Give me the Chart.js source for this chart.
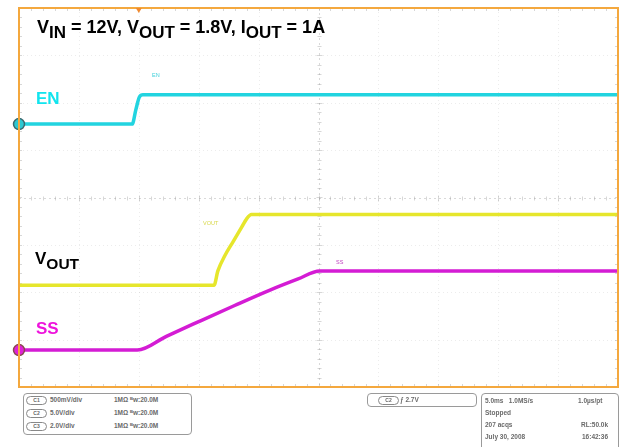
<!DOCTYPE html>
<html><head><meta charset="utf-8">
<script src="https://cdn.jsdelivr.net/npm/chart.js@4/dist/chart.umd.min.js"></script>
<style>
body{margin:0;background:#fff;}
#wrap{position:relative;width:625px;height:447px;background:#fff;overflow:hidden;font-family:"Liberation Sans",Arial,sans-serif;}
canvas{position:absolute;left:0;top:0;}
.lbl{position:absolute;font-weight:bold;font-size:17px;line-height:17px;white-space:nowrap;}
.lbl sub{font-size:15.5px;vertical-align:-5px;line-height:0;}
.title{font-size:18px;}
.title sub{font-size:17px;}
.tiny{position:absolute;font-size:5.5px;line-height:6px;white-space:nowrap;}
.box{position:absolute;border:1.5px solid #9a9a9a;border-radius:4px;background:#fff;}
.row{position:absolute;font-size:6.5px;font-weight:bold;color:#6a6a6a;line-height:7px;white-space:nowrap;}
.pill{position:absolute;border:1px solid #888;border-radius:5px;width:19px;height:7px;font-size:5px;line-height:7px;text-align:center;color:#666;font-weight:bold;}
</style></head>
<body>
<div id="wrap">
<canvas id="c" width="625" height="447"></canvas>
<div class="lbl title" style="left:37px;top:19px;color:#000;">V<sub>IN</sub> = 12V, V<sub>OUT</sub> = 1.8V, I<sub>OUT</sub> = 1A</div>
<div class="lbl" style="left:36px;top:90px;color:#12E4EE;">EN</div>
<div class="lbl" style="left:35px;top:250px;color:#000;">V<sub>OUT</sub></div>
<div class="lbl" style="left:36px;top:320px;color:#EE14DC;">SS</div>
<div class="tiny" style="left:152px;top:72px;color:#40D0DA;">EN</div>
<div class="tiny" style="left:203px;top:220px;color:#D8D84A;">VOUT</div>
<div class="tiny" style="left:336px;top:259px;color:#C040C0;">SS</div>

<div class="box" style="left:23px;top:393px;width:167px;height:40px;"></div>
<div class="pill" style="left:26px;top:396px;">C1</div><div class="row" style="left:50px;top:396px;">500mV/div</div><div class="row" style="left:114px;top:396px;">1MΩ ᴮw:20.0M</div>
<div class="pill" style="left:26px;top:409px;">C2</div><div class="row" style="left:50px;top:409px;">5.0V/div</div><div class="row" style="left:114px;top:409px;">1MΩ ᴮw:20.0M</div>
<div class="pill" style="left:26px;top:422px;">C3</div><div class="row" style="left:50px;top:422px;">2.0V/div</div><div class="row" style="left:114px;top:422px;">1MΩ ᴮw:20.0M</div>

<div class="box" style="left:367px;top:393px;width:108px;height:12px;"></div>
<div class="pill" style="left:378px;top:396px;">C2</div><div class="row" style="left:400px;top:396px;">ƒ 2.7V</div>

<div class="box" style="left:481px;top:393px;width:136px;height:60px;"></div>
<div class="row" style="left:485px;top:397px;">5.0ms&nbsp;&nbsp;&nbsp;1.0MS/s</div><div class="row" style="left:578px;top:397px;">1.0µs/pt</div>
<div class="row" style="left:485px;top:409px;">Stopped</div>
<div class="row" style="left:485px;top:421px;">207 acqs</div><div class="row" style="left:581px;top:421px;">RL:50.0k</div>
<div class="row" style="left:485px;top:433px;">July 30, 2008</div><div class="row" style="left:582px;top:433px;">16:42:36</div>
</div>
<script>
// time in ms (5 ms/div, 10 divisions); values in screen divisions (0..8)
const timeEN = [0, 9.45, 9.75, 10.05, 10.35, 50];
const valEN  = [5.55, 5.55, 5.85, 6.12, 6.17, 6.17];
const timeVOUT = [0, 16.28, 16.6, 17.2, 17.9, 18.6, 19.0, 19.4, 50];
const valVOUT  = [2.15, 2.15, 2.45, 2.78, 3.08, 3.38, 3.55, 3.64, 3.64];
const timeSS = [0, 9.88, 12.3, 15.0, 18.0, 21.0, 23.3, 25.1, 50];
const valSS  = [0.78, 0.78, 1.07, 1.38, 1.72, 2.05, 2.28, 2.45, 2.45];
const triggerTime = [10];
const xDivs = [0,5,10,15,20,25,30,35,40,45,50];
const yDivs = [0,1,2,3,4,5,6,7,8];

const pts = (t, v) => t.map((x, i) => ({x, y: v[i]}));

const graticule = {
  id: 'graticule',
  beforeDatasetsDraw(chart) {
    const {ctx, chartArea: a, scales: {x, y}} = chart;
    ctx.save();
    ctx.lineWidth = 1;
    ctx.strokeStyle = 'rgba(150,150,150,0.18)';
    ctx.setLineDash([1, 3]);
    xDivs.slice(1, -1).forEach(d => {
      if (d === 25) return;
      const px = Math.round(x.getPixelForValue(d)) + 0.5;
      ctx.beginPath(); ctx.moveTo(px, a.top); ctx.lineTo(px, a.bottom); ctx.stroke();
    });
    yDivs.slice(1, -1).forEach(d => {
      if (d === 4) return;
      const py = Math.round(y.getPixelForValue(d)) + 0.5;
      ctx.beginPath(); ctx.moveTo(a.left, py); ctx.lineTo(a.right, py); ctx.stroke();
    });
    ctx.strokeStyle = 'rgba(130,130,130,0.3)';
    ctx.setLineDash([2, 3]);
    const cx = Math.round(x.getPixelForValue(25)) + 0.5;
    const cy = Math.round(y.getPixelForValue(4)) + 0.5;
    ctx.beginPath(); ctx.moveTo(cx, a.top); ctx.lineTo(cx, a.bottom); ctx.stroke();
    ctx.beginPath(); ctx.moveTo(a.left, cy); ctx.lineTo(a.right, cy); ctx.stroke();
    ctx.setLineDash([]);
    ctx.strokeStyle = 'rgba(140,140,140,0.35)';
    for (let t = 0; t <= 50; t += 1) {
      const px = Math.round(x.getPixelForValue(t)) + 0.5;
      const len = (t % 5 === 0) ? 3 : 2;
      ctx.beginPath();
      ctx.moveTo(px, cy - len); ctx.lineTo(px, cy + len);
      ctx.moveTo(px, a.top); ctx.lineTo(px, a.top + 3);
      ctx.moveTo(px, a.bottom); ctx.lineTo(px, a.bottom - 3);
      ctx.stroke();
    }
    for (let v = 0; v <= 8.001; v += 0.2) {
      const py = Math.round(y.getPixelForValue(v)) + 0.5;
      const len = (Math.abs(v - Math.round(v)) < 0.01) ? 3 : 2;
      ctx.beginPath();
      ctx.moveTo(cx - len, py); ctx.lineTo(cx + len, py);
      ctx.moveTo(a.left, py); ctx.lineTo(a.left + 3, py);
      ctx.moveTo(a.right, py); ctx.lineTo(a.right - 3, py);
      ctx.stroke();
    }
    ctx.restore();
  },
  afterDraw(chart) {
    const {ctx, chartArea: a, scales: {x}} = chart;
    ctx.save();
    ctx.strokeStyle = '#F4A83E';
    ctx.lineWidth = 2;
    ctx.strokeRect(a.left, a.top, a.right - a.left, a.bottom - a.top);
    const tx = x.getPixelForValue(triggerTime[0]);
    ctx.fillStyle = '#F08A30';
    ctx.beginPath(); ctx.moveTo(tx - 3, a.top); ctx.lineTo(tx + 3, a.top); ctx.lineTo(tx, a.top + 5); ctx.closePath(); ctx.fill();
    ctx.restore();
  }
};

const markerRadius = c => c.dataIndex === 0 ? 5.5 : 0;

new Chart(document.getElementById('c'), {
  type: 'line',
  data: {
    datasets: [
      {label: 'EN', data: pts(timeEN, valEN), borderColor: '#22D4E0', backgroundColor: '#2CC8D2',
       pointBorderColor: '#3A6A70', pointBorderWidth: 1.5, pointRadius: markerRadius, borderWidth: 3.5, clip: false},
      {label: 'VOUT', data: pts(timeVOUT, valVOUT), borderColor: '#E6E62C', backgroundColor: '#E6E62C',
       pointRadius: 0, borderWidth: 3.5, clip: false},
      {label: 'SS', data: pts(timeSS, valSS), borderColor: '#D41CD4', backgroundColor: '#E020D8',
       pointBorderColor: '#8A4A50', pointBorderWidth: 1.5, pointRadius: markerRadius, borderWidth: 3.5, clip: false}
    ]
  },
  options: {
    responsive: false,
    animation: false,
    devicePixelRatio: 1,
    layout: {padding: {left: 19, top: 8, right: 4, bottom: 60}},
    plugins: {legend: {display: false}, tooltip: {enabled: false}},
    elements: {line: {cubicInterpolationMode: 'monotone'}},
    scales: {
      x: {type: 'linear', min: 0, max: 50, display: false},
      y: {type: 'linear', min: 0, max: 8, display: false}
    }
  },
  plugins: [graticule]
});
</script>
</body></html>
